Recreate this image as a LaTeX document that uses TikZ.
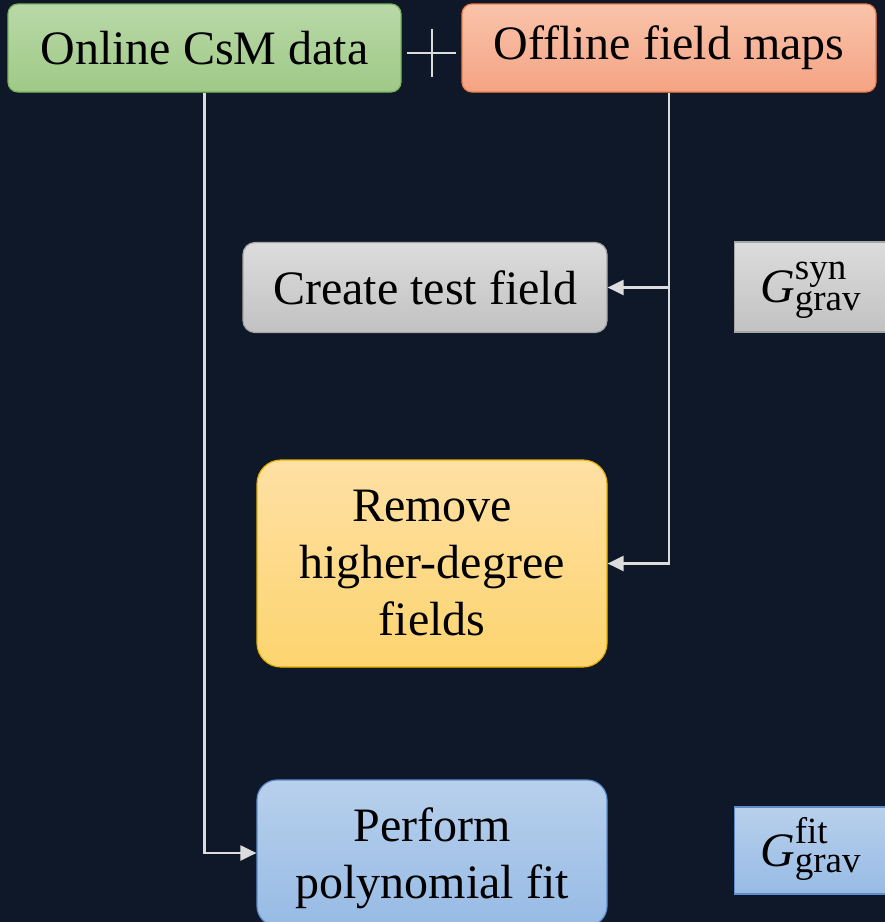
\documentclass[tikz,border=0pt]{standalone}
\usepackage{amsmath}
\usepackage{fontspec}
\setmainfont{Liberation Serif}
\usetikzlibrary{arrows.meta}
\definecolor{bg}{HTML}{0F1829}
\definecolor{conncol}{HTML}{DCDCDC}
\definecolor{gtop}{HTML}{B9D9A8}
\definecolor{gbot}{HTML}{9FC987}
\definecolor{gdraw}{HTML}{7DB35F}
\definecolor{otop}{HTML}{F9C4AB}
\definecolor{obot}{HTML}{F5A383}
\definecolor{odraw}{HTML}{EE7E45}
\definecolor{ctop}{HTML}{DCDCDC}
\definecolor{cbot}{HTML}{C2C2C2}
\definecolor{cdraw}{HTML}{A6A6A6}
\definecolor{ytop}{HTML}{FEE0A4}
\definecolor{ybot}{HTML}{FDD46F}
\definecolor{ydraw}{HTML}{E5B200}
\definecolor{btop}{HTML}{B8D0EC}
\definecolor{bbot}{HTML}{97BBE5}
\definecolor{bdraw}{HTML}{5D8ECB}
\newcommand{\scrtxt}[1]{\text{\fontsize{37}{40}\selectfont #1}}
\tikzset{
  box/.style={draw, line width=1.2pt, inner sep=0pt, align=center, text=black,
    font=\fontsize{48}{57}\selectfont},
  greenbox/.style={box, top color=gtop, bottom color=gbot, draw=gdraw},
  orangebox/.style={box, top color=otop, bottom color=obot, draw=odraw},
  greybox/.style={box, top color=ctop, bottom color=cbot, draw=cdraw},
  yellowbox/.style={box, top color=ytop, bottom color=ybot, draw=ydraw},
  bluebox/.style={box, top color=btop, bottom color=bbot, draw=bdraw},
  conn/.style={draw=conncol, line width=2.2pt, -{Triangle[length=16pt,width=15pt]}, color=conncol},
  plusline/.style={draw=conncol, line width=1.5pt},
  mathlbl/.style={text=black, font=\fontsize{48}{50}\selectfont, inner sep=0pt}
}
\begin{document}
\begin{tikzpicture}[x=1pt,y=-1pt]
\useasboundingbox (0,0) rectangle (885,922);
\fill[bg] (0,0) rectangle (885,922);
\clip (0,0) rectangle (885,922);

\node[greenbox, rounded corners=10pt, minimum width=393pt, minimum height=88pt] (online) at (204.5,48) {Online CsM data};
\node[orangebox, rounded corners=10pt, minimum width=414pt, minimum height=88pt] (offline) at (669,48) {Offline field maps};
\draw[plusline] (407,53) -- (456,53);
\draw[plusline] (432,29) -- (432,77);

\node[greybox, rounded corners=12pt, minimum width=364pt, minimum height=90pt] (create) at (425,287.5) {Create test field};
\node[yellowbox, rounded corners=24pt, minimum width=350pt, minimum height=207pt] (remove) at (432,563.5) {Remove\\higher-degree\\fields};
\node[bluebox, rounded corners=20pt, minimum width=350pt, minimum height=146pt] (perform) at (432,853) {};
\node[box, draw=none, fill=none] (performtxt) at (432,858) {Perform\\polynomial fit};

\node[greybox, rounded corners=0pt, minimum width=200pt, minimum height=90pt, anchor=west] (syn) at (734,287) {};
\node[mathlbl, anchor=base west] (syntxt) at (760,302) {$\text{\itshape G}^{\scrtxt{syn}}_{\scrtxt{grav}}$};
\node[bluebox, rounded corners=0pt, minimum width=200pt, minimum height=87pt, anchor=west] (fit) at (734,850.5) {};
\node[mathlbl, anchor=base west] (fittxt) at (760,866) {$\text{\itshape G}^{\scrtxt{fit}}_{\scrtxt{grav}}$};

\draw[conn] (online.south) |- (perform.west);
\draw[conn] (offline.south) |- (remove.east);
\coordinate (junc) at (offline.south |- create.east);
\draw[conn] (junc) -- (create.east);
\end{tikzpicture}
\end{document}
